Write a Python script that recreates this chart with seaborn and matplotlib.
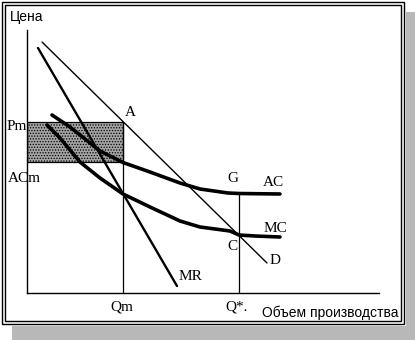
import matplotlib
matplotlib.use("Agg")
import matplotlib.pyplot as plt
import seaborn as sns
import pandas as pd
from matplotlib.patches import Rectangle

# ---- data (quantity, price) ----
q_d = [1.5, 24.0]
p_d = [25.1, 3.0]

q_mr = [1.1, 15.0]
p_mr = [24.5, 0.7]

q_ac = [2.5, 4.3, 6.3, 7.3, 9.6, 12.3, 15.3, 17.3, 20.1, 21.2, 25.3]
p_ac = [17.8, 16.6, 15.0, 14.2, 13.05, 12.1, 11.0, 10.4, 10.0, 9.95, 9.9]

q_mc = [2.0, 3.3, 5.3, 7.3, 9.6, 12.3, 15.3, 17.3, 20.3, 21.2, 22.8, 25.3]
p_mc = [16.8, 15.5, 13.1, 11.5, 9.9, 8.6, 7.2, 6.6, 6.2, 5.8, 5.7, 5.6]

q_m, q_star = 9.6, 21.2
p_m, ac_m = 17.05, 13.05
ac_star = 9.95

W, H = 415, 340
sns.set_theme(style="white")
plt.rcParams["font.family"] = ["Liberation Sans", "DejaVu Sans"]

fig = plt.figure(figsize=(W / 100, H / 100), dpi=100)

# background layer in pixel units: double frame and dotted shadow
bg = fig.add_axes([0, 0, 1, 1])
bg.set_xlim(0, W)
bg.set_ylim(H, 0)
bg.axis("off")
plt.rcParams["hatch.linewidth"] = 0.6
for x0, y0, w, h in [(406, 12, 9, 328), (12, 326, 394, 14)]:
    bg.add_patch(Rectangle((x0, y0), w, h, facecolor="#b8b8b8", edgecolor="none",
                           hatch="......", linewidth=0))
for x0, y0, x1, y1 in [(1.5, 1.5, 404, 324), (4.5, 4.5, 401, 321)]:
    bg.add_patch(Rectangle((x0, y0), x1 - x0, y1 - y0, fill=False,
                           edgecolor="black", linewidth=1.0))

# chart axes
ax = fig.add_axes([27 / W, (H - 293) / H, 352 / W, 263 / H])
ax.set_xlim(0, 35.2)
ax.set_ylim(0, 26.3)
ax.patch.set_alpha(0)
for s in ["top", "right"]:
    ax.spines[s].set_visible(False)
for s in ["left", "bottom"]:
    ax.spines[s].set_color("black")
    ax.spines[s].set_linewidth(1.0)
ax.set_xticks([])
ax.set_yticks([])

# monopoly loss rectangle
ax.add_patch(Rectangle((0, ac_m), q_m, p_m - ac_m, facecolor="#a4a4a4",
                       edgecolor="black", hatch="......", linewidth=0.9))

curves = [
    (q_d, p_d, 1.0),
    (q_mr, p_mr, 1.7),
    (q_ac, p_ac, 2.6),
    (q_mc, p_mc, 2.6),
]
for qs, ps, lw in curves:
    sns.lineplot(data=pd.DataFrame({"q": qs, "p": ps}), x="q", y="p", ax=ax,
                 sort=False, color="black", linewidth=lw, estimator=None)

ax.plot([q_m, q_m], [0, p_m], color="black", linewidth=0.9)
ax.plot([q_star, q_star], [0, ac_star], color="black", linewidth=0.9)
ax.set_xlabel("")
ax.set_ylabel("")

serif = dict(family=["Liberation Serif", "DejaVu Serif"], fontsize=11, color="black",
             ha="center", va="center")
sans = dict(family=["Liberation Sans", "DejaVu Sans"], fontsize=10, color="black",
            va="center")

bg.text(10, 17, "Цена", ha="left", **sans)
bg.text(262, 313, "Объем производства", ha="left", **sans)
bg.text(17, 126, "Pm", **serif)
bg.text(24, 178, "ACm", **serif)
bg.text(130, 112, "A", **serif)
bg.text(233, 179, "G", **serif)
bg.text(273, 183, "AC", **serif)
bg.text(275, 228, "MC", **serif)
bg.text(232, 247, "C", **serif)
bg.text(275, 261, "D", **serif)
bg.text(190, 277, "MR", **serif)
bg.text(122, 307, "Qm", **serif)
bg.text(237, 307, "Q*.", **serif)

fig.savefig("out.png", dpi=100)
